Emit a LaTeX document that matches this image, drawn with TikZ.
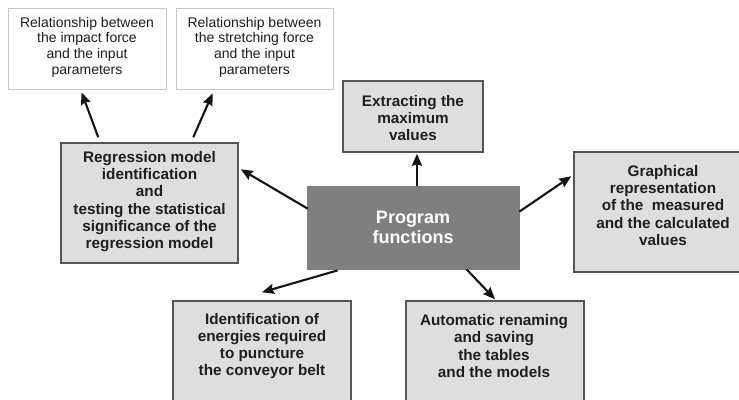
\documentclass[tikz,border=0pt]{standalone}
\usepackage{fontspec}
\setmainfont{Liberation Sans}
\usetikzlibrary{arrows.meta}
\definecolor{boxgray}{HTML}{DEDEDE}
\definecolor{progray}{HTML}{7F7F7F}
\definecolor{edgegray}{HTML}{555555}
\definecolor{lightedge}{HTML}{C8C8C8}
\definecolor{txt}{HTML}{1E1E1E}
\tikzset{
  whitebox/.style={draw=lightedge, line width=0.8pt, fill=white, inner sep=0pt},
  graybox/.style={draw=edgegray, line width=1.5pt, fill=boxgray, inner sep=0pt},
  progbox/.style={draw=progray, line width=0.8pt, fill=progray, inner sep=0pt,
    text=white, align=center, font=\fontsize{18}{19.5}\selectfont\bfseries},
  plaintxt/.style={align=center, text=txt, inner sep=0pt, font=\fontsize{14}{15.7}\selectfont},
  boldtxt/.style={align=center, text=txt, inner sep=0pt, font=\fontsize{15.3}{17.2}\selectfont\bfseries},
  arr/.style={line width=2.1pt, draw=black!92, -{Stealth[length=12pt,width=10pt,inset=1.5pt]}}
}
\begin{document}
\begin{tikzpicture}[x=1pt,y=-1pt]
\useasboundingbox (0,0) rectangle (739,399);
\clip (0,0) rectangle (739,399);
\fill[white] (0,0) rectangle (739,399);
% boxes
\node[whitebox, minimum width=158pt, minimum height=81pt] (rel1) at (87,48.5) {};
\node[plaintxt] (rel1t) at (87,47) {Relationship between\\the impact force\\and the input\\parameters};
\node[whitebox, minimum width=157pt, minimum height=81pt] (rel2) at (254.5,48.5) {};
\node[plaintxt] (rel2t) at (254.5,47) {Relationship between\\the stretching force\\and the input\\parameters};
\node[graybox, minimum width=177pt, minimum height=120pt] (reg) at (149.5,203) {};
\node[boldtxt] (regt) at (149.5,201.5) {Regression model\\identification\\and\\testing the statistical\\significance of the\\regression model};
\node[graybox, minimum width=140pt, minimum height=71pt] (ext) at (413,116.5) {};
\node[boldtxt] (extt) at (413,118) {Extracting the\\maximum\\values};
\node[progbox, minimum width=212pt, minimum height=83pt] (prog) at (413,227.5) {Program\\functions};
\node[graybox, minimum width=190pt, minimum height=120pt] (graph) at (669,212) {};
\node[boldtxt] (grapht) at (663,205.5) {Graphical\\representation\\of the\ \ measured\\and the calculated\\values};
\node[graybox, minimum width=178pt, minimum height=130pt] (ident) at (262,366) {};
\node[boldtxt] (identt) at (262,346) {Identification of\\energies required\\to puncture\\the conveyor belt};
\node[graybox, minimum width=178pt, minimum height=130pt] (auto) at (495,366) {};
\node[boldtxt] (autot) at (494,346) {Automatic renaming\\and saving\\the tables\\and the models};
% connectors
\draw[arr] ([shift={(38,-5)}]reg.north west) -- ([shift={(74,3)}]rel1.south west);
\draw[arr] ([shift={(133,-5)}]reg.north west) -- ([shift={(37,4)}]rel2.south west);
\draw[arr] ([shift={(1,23)}]prog.north west) -- ([shift={(2,27)}]reg.north east);
\draw[arr] ([shift={(4,0)}]prog.north) -- ([shift={(4,1)}]ext.south);
\draw[arr] ([shift={(0,26)}]prog.north east) -- ([shift={(-2,25)}]graph.north west);
\draw[arr] ([shift={(31,1)}]prog.south west) -- ([shift={(0,-8)}]ident.north);
\draw[arr] ([shift={(160,0)}]prog.south west) -- ([shift={(0,-1)}]auto.north);
\end{tikzpicture}
\end{document}
